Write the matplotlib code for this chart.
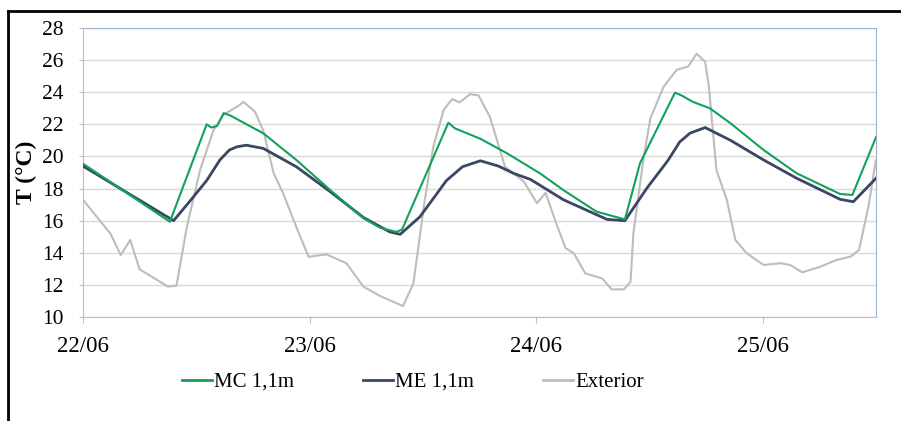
import matplotlib
matplotlib.use("Agg")
import matplotlib.pyplot as plt
from matplotlib.lines import Line2D

# ---- data (hours since 22/06 00:00) ----
mc_h = [0, 9.2, 13.1, 13.6, 14.2, 14.9, 15.6, 19.1, 22.6, 26.2, 29.7, 31.5, 33.2, 33.8,
        38.7, 39.4, 42.1, 44.9, 48.4, 50.9, 54.4, 57.4, 59.0, 62.7, 63.4, 64.6, 66.4,
        68.6, 72.1, 75.6, 80.2, 81.5, 84.0]
mc_t = [19.55, 15.93, 22.0, 21.8, 21.9, 22.7, 22.55, 21.44, 19.78, 17.9, 16.15, 15.55, 15.3, 15.45,
        22.1, 21.75, 21.1, 20.2, 18.95, 17.9, 16.56, 16.08, 19.57, 23.97, 23.8, 23.4, 23.0,
        22.06, 20.4, 18.95, 17.66, 17.6, 21.2]

me_h = [0, 9.6, 11.3, 13.1, 14.5, 15.5, 16.3, 17.3, 19.1, 22.6, 26.2, 29.7, 32.5, 33.6, 35.7,
        38.5, 40.2, 42.1, 44.0, 45.6, 47.4, 50.9, 55.5, 57.4, 59.7, 62.0, 63.2, 64.3, 65.9,
        68.6, 72.1, 75.6, 80.2, 81.6, 84.0]
me_t = [19.4, 16.0, 17.2, 18.5, 19.78, 20.4, 20.6, 20.7, 20.5, 19.36, 17.8, 16.2, 15.3, 15.15, 16.25,
        18.5, 19.36, 19.73, 19.4, 18.95, 18.57, 17.3, 16.08, 16.0, 18.0, 19.78, 20.9, 21.45, 21.8,
        21.0, 19.78, 18.64, 17.33, 17.18, 18.64]

ext_h = [0, 2.9, 4.0, 5.0, 6.0, 9.0, 9.9, 11.0, 12.4, 13.8, 14.9, 16.6, 17.0, 18.2, 19.1,
         20.2, 21.2, 22.6, 23.9, 25.8, 27.9, 29.7, 31.5, 33.9, 35.0, 36.1, 37.1, 38.2, 39.1,
         39.9, 41.0, 41.9, 43.1, 44.7, 46.7, 48.1, 49.0, 50.0, 51.1, 52.0, 53.2, 55.0, 56.0,
         57.3, 58.0, 58.3, 59.4, 60.1, 61.5, 62.9, 64.1, 65.0, 65.9, 66.3, 67.1, 68.2, 69.1,
         70.3, 72.1, 73.9, 74.9, 76.2, 78.1, 79.8, 81.3, 82.2, 83.2, 83.7, 84.0]
ext_t = [17.3, 15.2, 13.86, 14.8, 12.97, 11.89, 11.95, 15.6, 19.15, 21.6, 22.6, 23.2, 23.4, 22.8, 21.6,
         18.95, 17.7, 15.6, 13.75, 13.9, 13.35, 11.89, 11.3, 10.68, 12.1, 16.87, 20.6, 22.9, 23.57,
         23.37, 23.88, 23.8, 22.47, 19.36, 18.43, 17.08, 17.74, 16.04, 14.3, 13.96, 12.72, 12.4, 11.72,
         11.72, 12.2, 15.2, 19.98, 22.37, 24.34, 25.4, 25.6, 26.4, 25.9, 24.34, 19.15, 17.3, 14.8,
         13.97, 13.24, 13.35, 13.24, 12.78, 13.13, 13.55, 13.76, 14.17, 16.87, 18.74, 19.78]

day_ticks = [0, 24, 48, 72]
day_labels = ["22/06", "23/06", "24/06", "25/06"]
y_ticks = list(range(10, 29, 2))

names = ["MC 1,1m", "ME 1,1m", "Exterior"]
colors = ["#12a15a", "#3a4763", "#bdbdbd"]

plt.rcParams['font.family'] = ['Liberation Serif', 'DejaVu Serif']

fig = plt.figure(figsize=(9.01, 4.21), dpi=100)
W, H = 901, 421
ax = fig.add_axes([83 / W, 1 - 317 / H, (876 - 83) / W, (317 - 28) / H])

ax.plot(ext_h, ext_t, color=colors[2], lw=1.5, label=names[2], zorder=2)
ax.plot(me_h, me_t, color=colors[1], lw=2.0, label=names[1], zorder=3)
ax.plot(mc_h, mc_t, color=colors[0], lw=1.5, label=names[0], zorder=4)

ax.set_xlim(0, 84)
ax.set_ylim(10, 28)
ax.set_xticks(day_ticks)
ax.set_xticklabels(day_labels)
ax.set_yticks(y_ticks)
ax.tick_params(axis='both', colors='#bfbfbf', labelcolor='black')
ax.tick_params(axis='x', length=4, pad=10, labelsize=16.5)
ax.tick_params(axis='y', length=3, pad=11, labelsize=15.5)
ax.yaxis.grid(True, color='#d9d9d9', lw=1)
ax.set_axisbelow(True)
for s in ['left', 'bottom']:
    ax.spines[s].set_color('#bfbfbf')
for s in ['top', 'right']:
    ax.spines[s].set_color('#9fb3c4')
ax.set_ylabel("T (°C)", fontsize=17, fontweight='bold')
ax.yaxis.set_label_coords((37 - 83) / 793, 0.5)

handles = [Line2D([], [], color=c, lw=2) for c in colors]
fig.legend(handles, names, loc='center', bbox_to_anchor=(413 / W, 1 - 382 / H), ncol=3,
           frameon=False, fontsize=15, handlelength=1.45, handletextpad=0.1,
           columnspacing=3.3)

# outer frame (top and left edges)
fig.add_artist(Line2D([8 / W, 1], [1 - 11 / H, 1 - 11 / H], color='black', lw=2,
                      transform=fig.transFigure))
fig.add_artist(Line2D([8 / W, 8 / W], [0, 1 - 11 / H], color='black', lw=2,
                      transform=fig.transFigure))

fig.savefig("out.png", dpi=100)
